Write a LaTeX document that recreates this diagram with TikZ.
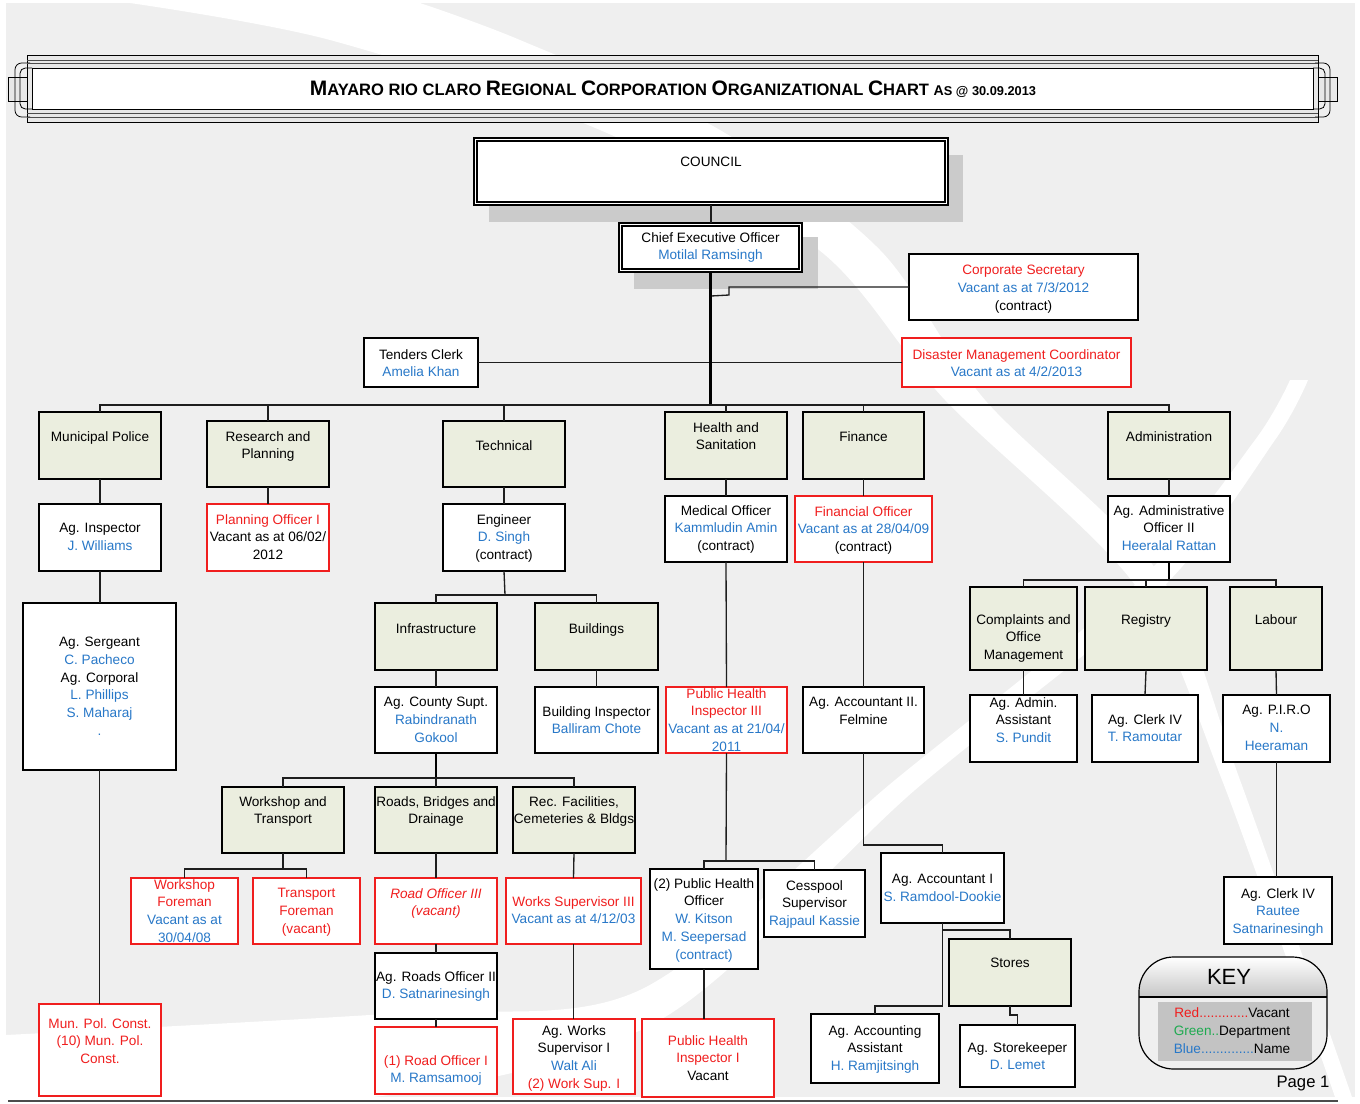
\documentclass[tikz,border=0pt]{standalone}
\usepackage{fontspec}
\setmainfont{Liberation Sans}
\usetikzlibrary{fit}
\definecolor{bgc}{HTML}{EFEFEF}
\definecolor{deptg}{HTML}{EBEEDF}
\definecolor{nblue}{HTML}{2878C8}
\definecolor{vred}{HTML}{F01E1E}
\definecolor{shad}{HTML}{CBCBCB}
\definecolor{linec}{HTML}{1E1E1E}
\definecolor{keyg}{HTML}{C3C3C3}
\definecolor{kgreen}{HTML}{1EAA50}
\newcommand\nm[1]{\textcolor{nblue}{#1}}
\newcommand\vc[1]{\textcolor{vred}{#1}}
\newcommand\ttA[1]{{\fontsize{15.7}{17}\selectfont #1}}
\newcommand\ttB[1]{{\fontsize{12.4}{17}\selectfont #1}}
\newcommand\ttC[1]{{\fontsize{9.6}{17}\selectfont #1}}
\newcommand\obox[8]{\node[#2, fit={(#3,#4) (#5,#6)}] (#1) {};\node[txt, anchor=north] (#1-t) at ({(#3+#5)/2},{#7-5}) {#8};}
\tikzset{
 bx/.style={draw=black, line width=0.9pt, fill=white, inner sep=0pt, outer sep=0pt},
 rb/.style={draw=vred, line width=0.9pt, fill=white, inner sep=0pt, outer sep=0pt},
 gb/.style={draw=black, line width=0.9pt, fill=deptg, inner sep=0pt, outer sep=0pt},
 txt/.style={font=\fontsize{10.2}{13.3}\selectfont, align=center, inner sep=0pt, text=black},
 ln/.style={draw=linec, line width=1pt},
 thk/.style={draw=black, line width=1.8pt},
 fr/.style={draw=black, line width=0.6pt},
}
\begin{document}
\begin{tikzpicture}[x=0.75pt,y=-0.75pt]
\useasboundingbox (0,0) rectangle (1360,1103);
% background
\fill[white] (0,0) rectangle (1360,1103);
\fill[bgc] (6,3) rectangle (1355,1097);
\fill[white] plot[smooth] coordinates {(130,3) (330,40) (600,130) (819,250) (945,400) (1135,585) (1222,780) (1335,1097)}
  -- plot[smooth] coordinates {(1352,1097) (1240,780) (1160,575) (985,400) (880,250) (720,130) (520,40) (420,3)} -- cycle;
\fill[white] plot[smooth] coordinates {(1290,380) (1255,440) (1140,580) (895,780) (640,990) (400,1013) (6,1035)}
  -- plot[smooth] coordinates {(6,1097) (373,1097) (660,1020) (915,790) (1160,590) (1275,440) (1308,380)} -- cycle;
% banner
\fill[gray!18] (27,55) rectangle (1318,122);
\filldraw[fr, fill=gray!18] (8,77) rectangle (27,101);
\filldraw[fr, fill=gray!18] (1318,77) rectangle (1337,101);
\draw[fr, rounded corners=5pt] (30,63) -- (15,63) -- (15,117) -- (30,117);
\draw[fr, rounded corners=4pt] (32,68) -- (20,68) -- (20,109) -- (32,109);
\draw[fr, rounded corners=5pt] (1315,63) -- (1330,63) -- (1330,117) -- (1315,117);
\draw[fr, rounded corners=4pt] (1313,68) -- (1325,68) -- (1325,109) -- (1313,109);
\draw[fr] (27,55) rectangle (1318,122);
\draw[fr, gray!60!black] (27,60) -- (1318,60) (27,63) -- (1318,63) (27,113) -- (1318,113) (27,117) -- (1318,117);
\filldraw[fr, fill=white] (32,68) rectangle (1313,109);
\node[font=\bfseries, inner sep=0pt] (title) at (673,89) {\ttA{M}\ttB{AYARO RIO CLARO }\ttA{R}\ttB{EGIONAL }\ttA{C}\ttB{ORPORATION }\ttA{O}\ttB{RGANIZATIONAL }\ttA{C}\ttB{HART }{\fontsize{10.6}{17}\selectfont A}\ttC{S @ 30.09.2013}};
% shadows
\fill[shad] (489,155) rectangle (963,222);
\fill[shad] (634,237) rectangle (818,289);
% boxes
\obox{council}{bx}{474}{138}{948}{205}{162}{COUNCIL}
\draw[line width=0.9pt] (477,141) rectangle (945,202);
\obox{ceo}{bx}{619}{223}{802}{272}{237}{Chief Executive Officer\\\nm{Motilal Ramsingh}}
\draw[line width=0.9pt] (622,226) rectangle (799,269);
\obox{cs}{bx}{909}{254}{1138}{320}{270}{\vc{Corporate Secretary}\\\nm{Vacant as at 7/3/2012}\\(contract)}
\obox{tc}{bx}{364}{338}{478}{387}{354}{Tenders Clerk\\\nm{Amelia Khan}}
\obox{dm}{rb}{902}{338}{1131}{387}{354}{\vc{Disaster Management Coordinator}\\\nm{Vacant as at 4/2/2013}}
\obox{mp}{gb}{39}{412}{161}{479}{436}{Municipal Police}
\obox{rp}{gb}{207}{421}{329}{487}{436}{Research and\\Planning}
\obox{tech}{gb}{443}{421}{565}{487}{445}{Technical}
\obox{hs}{gb}{665}{412}{787}{479}{427}{Health and\\Sanitation}
\obox{fin}{gb}{803}{412}{924}{479}{436}{Finance}
\obox{adm}{gb}{1108}{412}{1230}{479}{436}{Administration}
\obox{insp}{bx}{39}{504}{161}{571}{528}{Ag. Inspector\\\nm{J. Williams}}
\obox{po}{rb}{207}{504}{329}{571}{519}{\vc{Planning Officer I}\\Vacant as at 06/02/\\2012}
\obox{eng}{bx}{443}{504}{565}{571}{519}{Engineer\\\nm{D. Singh}\\(contract)}
\obox{mo}{bx}{665}{496}{787}{562}{510}{Medical Officer\\\nm{Kammludin Amin}\\(contract)}
\obox{fo}{rb}{795}{496}{932}{562}{511}{\vc{Financial Officer}\\\nm{Vacant as at 28/04/09}\\(contract)}
\obox{aao}{bx}{1108}{496}{1230}{562}{510}{Ag. Administrative\\Officer II\\\nm{Heeralal Rattan}}
\obox{serg}{bx}{23}{603}{176}{770}{642}{Ag. Sergeant\\\nm{C. Pacheco}\\Ag. Corporal\\\nm{L. Phillips}\\\nm{S. Maharaj}\\\nm{.}}
\obox{mpc}{rb}{39}{1004}{161}{1096}{1023}{\vc{Mun. Pol. Const.}\\\vc{(10) Mun. Pol.}\\\vc{Const.}}
\obox{infra}{gb}{375}{603}{497}{670}{628}{Infrastructure}
\obox{bld}{gb}{535}{603}{658}{670}{628}{Buildings}
\obox{cty}{bx}{375}{687}{497}{753}{702}{Ag. County Supt.\\\nm{Rabindranath}\\\nm{Gokool}}
\obox{bi}{bx}{535}{687}{658}{753}{711}{Building Inspector\\\nm{Balliram Chote}}
\obox{wt}{gb}{222}{787}{344}{853}{801}{Workshop and\\Transport}
\obox{rbd}{gb}{375}{787}{497}{853}{801}{Roads, Bridges and\\Drainage}
\obox{rec}{gb}{513}{787}{635}{853}{801}{Rec. Facilities,\\Cemeteries \& Bldgs}
\obox{wf}{rb}{131}{878}{238}{944}{884}{\vc{Workshop}\\\vc{Foreman}\\\nm{Vacant as at}\\\nm{30/04/08}}
\obox{tf}{rb}{253}{878}{360}{944}{893}{\vc{Transport}\\\vc{Foreman}\\\vc{(vacant)}}
\obox{ro3}{rb}{375}{878}{497}{944}{893}{\vc{\itshape Road Officer III}\\\vc{\itshape (vacant)}}
\obox{ws3}{rb}{506}{878}{641}{944}{901}{\vc{Works Supervisor III}\\\nm{Vacant as at 4/12/03}}
\obox{aro2}{bx}{375}{953}{497}{1019}{976}{Ag. Roads Officer II\\\nm{D. Satnarinesingh}}
\obox{ro1}{rb}{375}{1027}{497}{1094}{1060}{\vc{(1) Road Officer I}\\\nm{M. Ramsamooj}}
\obox{aws1}{rb}{513}{1019}{635}{1094}{1030}{Ag. Works\\Supervisor I\\\nm{Walt Ali}\\\vc{(2) Work Sup. I}}
\obox{phi3}{rb}{666}{687}{787}{753}{693}{\vc{Public Health}\\\vc{Inspector III}\\\nm{Vacant as at 21/04/}\\\nm{2011}}
\obox{aa2}{bx}{803}{687}{924}{753}{702}{Ag. Accountant II.\\Felmine}
\obox{pho}{bx}{650}{869}{758}{969}{883}{(2) Public Health\\Officer\\\nm{W. Kitson}\\\nm{M. Seepersad}\\\nm{(contract)}}
\obox{cess}{bx}{764}{870}{865}{937}{885}{Cesspool\\Supervisor\\\nm{Rajpaul Kassie}}
\obox{phi1}{rb}{642}{1019}{774}{1097}{1040}{\vc{Public Health}\\\vc{Inspector I}\\Vacant}
\obox{aa1}{bx}{881}{853}{1004}{923}{879}{Ag. Accountant I\\\nm{S. Ramdool-Dookie}}
\obox{st}{gb}{949}{939}{1071}{1006}{963}{Stores}
\obox{aas}{bx}{811}{1014}{939}{1083}{1030}{Ag. Accounting\\Assistant\\\nm{H. Ramjitsingh}}
\obox{sk}{bx}{960}{1025}{1075}{1087}{1047}{Ag. Storekeeper\\\nm{D. Lemet}}
\obox{com}{gb}{970}{587}{1077}{670}{619}{Complaints and\\Office\\Management}
\obox{reg}{gb}{1085}{587}{1207}{670}{619}{Registry}
\obox{lab}{gb}{1230}{587}{1322}{670}{619}{Labour}
\obox{aas2}{bx}{970}{695}{1077}{762}{702}{Ag. Admin.\\Assistant\\\nm{S. Pundit}}
\obox{clk}{bx}{1092}{695}{1198}{762}{719}{Ag. Clerk IV\\\nm{T. Ramoutar}}
\obox{piro}{bx}{1223}{695}{1330}{762}{710}{Ag. P.I.R.O\\\nm{N.}\\\nm{Heeraman}}
\obox{clk2}{bx}{1224}{877}{1332}{944}{893}{Ag. Clerk IV\\\nm{Rautee}\\\nm{Satnarinesingh}}
% connectors
\coordinate (bus) at (711,405);
\coordinate (csj) at (711,296);
\draw[ln] (council.south) -- (council.south |- ceo.north);
\draw[ln] (cs.west) -- ++(-180,0) -- ++(0,8) -- (csj);
\draw[ln] (tc.east) -- (tc.east -| bus);
\draw[ln] (dm.west) -- (dm.west -| bus);
\draw[thk] (ceo.south) -- (ceo.south |- bus);
\draw[ln] (mp.north) |- (bus) -| (adm.north);
\foreach \n in {rp,tech,hs,fin} \draw[ln] (\n.north) -- (\n.north |- bus);
\draw[ln] (mp.south) -- (insp.north);
\draw[ln] (rp.south) -- (po.north);
\draw[ln] (tech.south) -- (eng.north);
\draw[ln] (hs.south) -- (mo.north);
\draw[ln] (fin.south) -- (fo.north);
\draw[ln] (adm.south) -- (aao.north);
\draw[ln] (insp.south) -- (insp.south |- serg.north);
\draw[ln] (serg.south) -- (serg.south |- mpc.north);
% technical
\coordinate (tb) at (505,595);
\draw[ln] (eng.south) -- (tb);
\draw[ln] (infra.north) |- (tb) -| (bld.north);
\draw[ln] (infra.south) -- (cty.north);
\draw[ln] (bld.south) -- (bi.north);
\coordinate (cb) at (436,778);
\draw[thk, line width=1.4pt] (cty.south) -- (cb);
\draw[ln] (wt.north) |- (cb) -| (rec.north);
\draw[ln] (rbd.north) -- (cb);
\draw[ln] (wt.south) -- ++(0,16) coordinate (wb);
\draw[ln] (wf.north) |- (wb) -| (tf.north);
\draw[ln] (rbd.south) -- (ro3.north);
\draw[ln] (ro3.south) -- (aro2.north);
\draw[ln] (aro2.south) -- (ro1.north);
\draw[ln] (rec.south) -- (ws3.north);
\draw[ln] (ws3.south) -- (ws3.south |- aws1.north);
% health
\draw[ln] (mo.south) -- (phi3.north);
\coordinate (hb) at (726,861);
\draw[ln] (phi3.south) -- (hb);
\draw[ln] (pho.north) |- (hb) -| (cess.north);
\draw[ln] (pho.south) -- (pho.south |- phi1.north);
% finance
\draw[ln] (fo.south) -- (aa2.north);
\draw[ln] (aa2.south) -- ++(0,92) -| (aa1.north);
\draw[ln] (aa1.south) -- ++(0,83) -| (aas.north);
\draw[ln] (aa1.south) ++(0,7) -| (st.north);
\draw[ln] (st.south) -- ++(0,9) -| (sk.north);
% administration
\coordinate (ab) at (1169,580);
\draw[thk, line width=1.4pt] (aao.south) -- (ab);
\draw[ln] (com.north) |- (ab) -| (lab.north);
\draw[ln] (reg.north) -- (reg.north |- ab);
\draw[ln] (com.south) -- (aas2.north);
\draw[ln] (reg.south) -- (clk.north);
\draw[ln] (lab.south) -- (piro.north);
\draw[ln] (piro.south) -- (piro.south |- clk2.north);
% key
\begin{scope}
\clip[rounded corners=26pt] (1139,957) rectangle (1327,1069);
\shade[top color=white, bottom color=gray!45] (1139,957) rectangle (1327,997);
\fill[bgc] (1139,997) rectangle (1327,1069);
\draw[line width=0.9pt] (1139,997) -- (1327,997);
\end{scope}
\draw[line width=0.9pt, rounded corners=26pt] (1139,957) rectangle (1327,1069);
\fill[keyg] (1158,1002) rectangle (1312,1061);
\node[inner sep=0pt, font=\fontsize{16.5}{18}\selectfont] (keyt) at (1229,977) {KEY};
\node[txt, font=\fontsize{10.2}{13.5}\selectfont] (keyl) at (1232,1031) {\textcolor{vred}{Red.............}Vacant\\\textcolor{kgreen}{Green..}Department\\\textcolor{nblue}{Blue..............}Name};
\node[inner sep=0pt, font=\fontsize{12.5}{14}\selectfont] (page) at (1303,1083) {Page 1};
\draw[line width=1.4pt, gray!60!black] (8,1101) -- (1338,1101);
\end{tikzpicture}
\end{document}
